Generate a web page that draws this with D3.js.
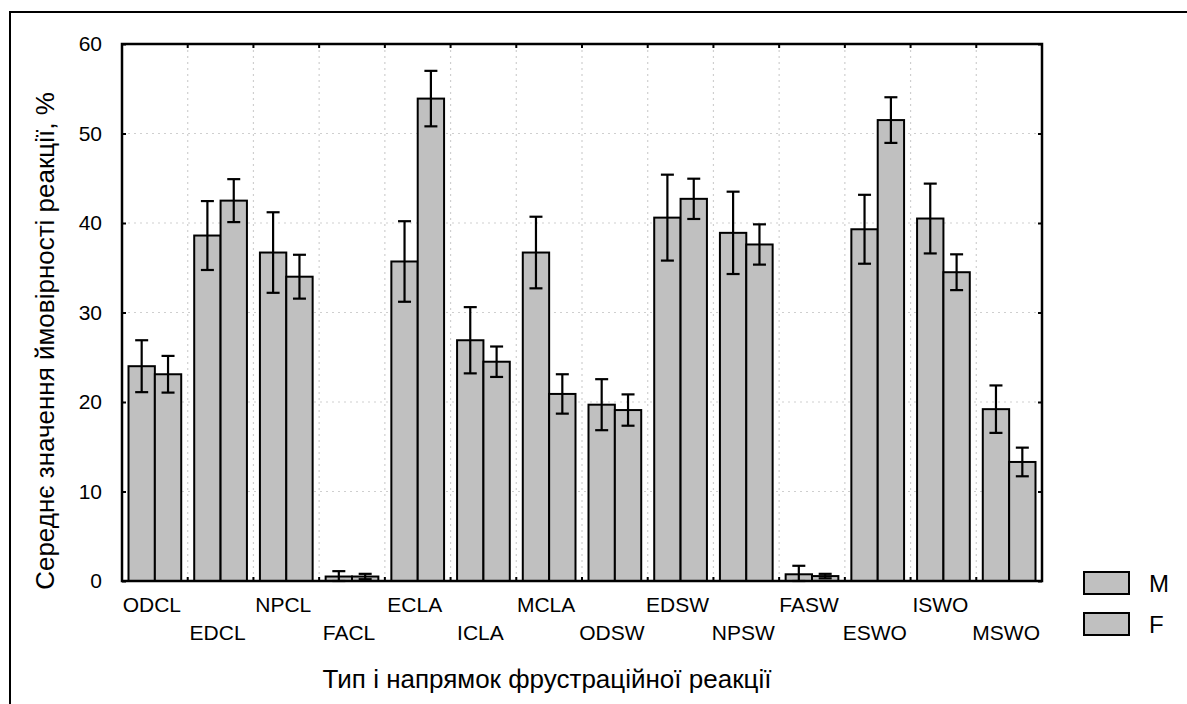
<!DOCTYPE html>
<html>
<head>
<meta charset="utf-8">
<script src="https://cdn.jsdelivr.net/npm/d3@7"></script>
<style>
  body { margin: 0; background: #fff; }
  svg { display: block; font-family: Arial, "Liberation Sans", sans-serif; }
  .grid line { stroke: #cfcfcf; stroke-width: 1.2; stroke-dasharray: 2,4; }
  .axis path { display: none; }
  .axis line { stroke: #000; stroke-width: 2; }
  .axis text { font-size: 21px; fill: #000; font-family: Arial, "Liberation Sans", sans-serif; }
</style>
</head>
<body>
<div id="chart"></div>
<script>
// categories (type and direction of reaction)
const categories = ['ODCL', 'EDCL', 'NPCL', 'FACL', 'ECLA', 'ICLA', 'MCLA',
    'ODSW', 'EDSW', 'NPSW', 'FASW', 'ESWO', 'ISWO', 'MSWO'];
const seriesNames = ['M', 'F'];

// means, %
const meanM = [24.0, 38.6, 36.7, 0.5, 35.7, 26.9, 36.7, 19.7, 40.6, 38.9, 0.75, 39.3, 40.5, 19.2];
const meanF = [23.1, 42.5, 34.0, 0.5, 53.9, 24.5, 20.9, 19.1, 42.7, 37.6, 0.55, 51.5, 34.5, 13.3];
// error half-widths
const errM = [2.9, 3.85, 4.5, 0.6, 4.5, 3.7, 4.0, 2.85, 4.8, 4.6, 0.95, 3.85, 3.9, 2.65];
const errF = [2.05, 2.4, 2.45, 0.3, 3.1, 1.7, 2.2, 1.75, 2.25, 2.25, 0.25, 2.55, 2.0, 1.6];

const yTicks = [0, 10, 20, 30, 40, 50, 60];

const W = 1187, H = 704;
const margin = { top: 44, left: 122, right: 145, bottom: 123 };

const svg = d3.select('#chart').append('svg')
    .attr('width', W)
    .attr('height', H);

// outer frame (cut at right and bottom)
svg.append('path')
    .attr('d', `M10,${H} L10,12 L${W},12`)
    .attr('fill', 'none')
    .attr('stroke', '#000')
    .attr('stroke-width', 2);

const x = d3.scaleBand()
    .domain(categories)
    .range([margin.left, W - margin.right])
    .padding(0);

const xSub = d3.scaleBand()
    .domain(seriesNames)
    .range([6.5, x.bandwidth() - 6.5]);

const y = d3.scaleLinear()
    .domain([0, 60])
    .range([H - margin.bottom, margin.top]);

const plotL = margin.left, plotR = W - margin.right;
const plotT = margin.top, plotB = H - margin.bottom;

// gridlines
const grid = svg.append('g').attr('class', 'grid');
grid.selectAll('.hg')
    .data(yTicks.slice(1, -1)).enter()
    .append('line')
    .attr('x1', plotL).attr('x2', plotR)
    .attr('y1', d => y(d)).attr('y2', d => y(d));
grid.selectAll('.vg')
    .data(categories.slice(1)).enter()
    .append('line')
    .attr('x1', d => x(d)).attr('x2', d => x(d))
    .attr('y1', plotT).attr('y2', plotB);

// data grouped by category
const data = categories.map((c, i) => ({
    cat: c,
    vals: [
        { s: 'M', v: meanM[i], e: errM[i] },
        { s: 'F', v: meanF[i], e: errF[i] }
    ]
}));

const groups = svg.selectAll('.cat')
    .data(data).enter()
    .append('g')
    .attr('transform', d => `translate(${x(d.cat)},0)`);

groups.selectAll('rect')
    .data(d => d.vals).enter()
    .append('rect')
    .attr('x', d => xSub(d.s))
    .attr('y', d => y(d.v))
    .attr('width', xSub.bandwidth())
    .attr('height', d => y(0) - y(d.v))
    .attr('fill', '#c0c0c0')
    .attr('stroke', '#000')
    .attr('stroke-width', 2);

// error bars
const cap = 6.5;
const eb = groups.selectAll('.err')
    .data(d => d.vals).enter()
    .append('g')
    .attr('stroke', '#000')
    .attr('stroke-width', 2.2);
eb.append('line')
    .attr('x1', d => xSub(d.s) + xSub.bandwidth() / 2)
    .attr('x2', d => xSub(d.s) + xSub.bandwidth() / 2)
    .attr('y1', d => y(d.v + d.e))
    .attr('y2', d => y(Math.max(0, d.v - d.e)));
eb.append('line')
    .attr('x1', d => xSub(d.s) + xSub.bandwidth() / 2 - cap)
    .attr('x2', d => xSub(d.s) + xSub.bandwidth() / 2 + cap)
    .attr('y1', d => y(d.v + d.e))
    .attr('y2', d => y(d.v + d.e));
eb.append('line')
    .attr('x1', d => xSub(d.s) + xSub.bandwidth() / 2 - cap)
    .attr('x2', d => xSub(d.s) + xSub.bandwidth() / 2 + cap)
    .attr('y1', d => y(Math.max(0, d.v - d.e)))
    .attr('y2', d => y(Math.max(0, d.v - d.e)));

// axes: inward ticks on all four sides
svg.append('g')
    .attr('class', 'axis')
    .attr('transform', `translate(${plotL},0)`)
    .call(d3.axisLeft(y).tickValues(yTicks).tickSize(-4).tickPadding(20));
svg.append('g')
    .attr('class', 'axis')
    .attr('transform', `translate(${plotR},0)`)
    .call(d3.axisRight(y).tickValues(yTicks).tickSize(-4).tickFormat(''));

const bounds = categories.slice(1).map(c => x(c));
svg.append('g').selectAll('line')
    .data(bounds).enter()
    .append('line')
    .attr('x1', d => d).attr('x2', d => d)
    .attr('y1', plotB).attr('y2', plotB - 4)
    .attr('stroke', '#000').attr('stroke-width', 2);
svg.append('g').selectAll('line')
    .data(bounds).enter()
    .append('line')
    .attr('x1', d => d).attr('x2', d => d)
    .attr('y1', plotT).attr('y2', plotT + 4)
    .attr('stroke', '#000').attr('stroke-width', 2);

// plot frame
svg.append('rect')
    .attr('x', plotL).attr('y', plotT)
    .attr('width', plotR - plotL).attr('height', plotB - plotT)
    .attr('fill', 'none')
    .attr('stroke', '#000')
    .attr('stroke-width', 2.5);

// category labels, alternating rows
svg.append('g').selectAll('text')
    .data(categories).enter()
    .append('text')
    .attr('x', d => x(d) + x.bandwidth() / 2 - 3)
    .attr('y', (d, i) => i % 2 === 0 ? plotB + 31 : plotB + 59)
    .attr('text-anchor', 'middle')
    .style('font-size', '21px')
    .text(d => d);

// axis titles
svg.append('text')
    .attr('x', 547)
    .attr('y', 688)
    .attr('text-anchor', 'middle')
    .style('font-size', '26px')
    .text('Тип і напрямок фрустраційної реакції');

svg.append('text')
    .attr('transform', 'translate(54,341) rotate(-90)')
    .attr('text-anchor', 'middle')
    .style('font-size', '26px')
    .text('Середнє значення ймовірності реакції, %');

// legend
const legend = svg.append('g').selectAll('g')
    .data(seriesNames).enter()
    .append('g')
    .attr('transform', (d, i) => `translate(1084,${572 + i * 41})`);
legend.append('rect')
    .attr('width', 45).attr('height', 22)
    .attr('fill', '#c0c0c0')
    .attr('stroke', '#000')
    .attr('stroke-width', 2);
legend.append('text')
    .attr('x', 65)
    .attr('y', 20)
    .style('font-size', '24px')
    .text(d => d);
</script>
</body>
</html>
